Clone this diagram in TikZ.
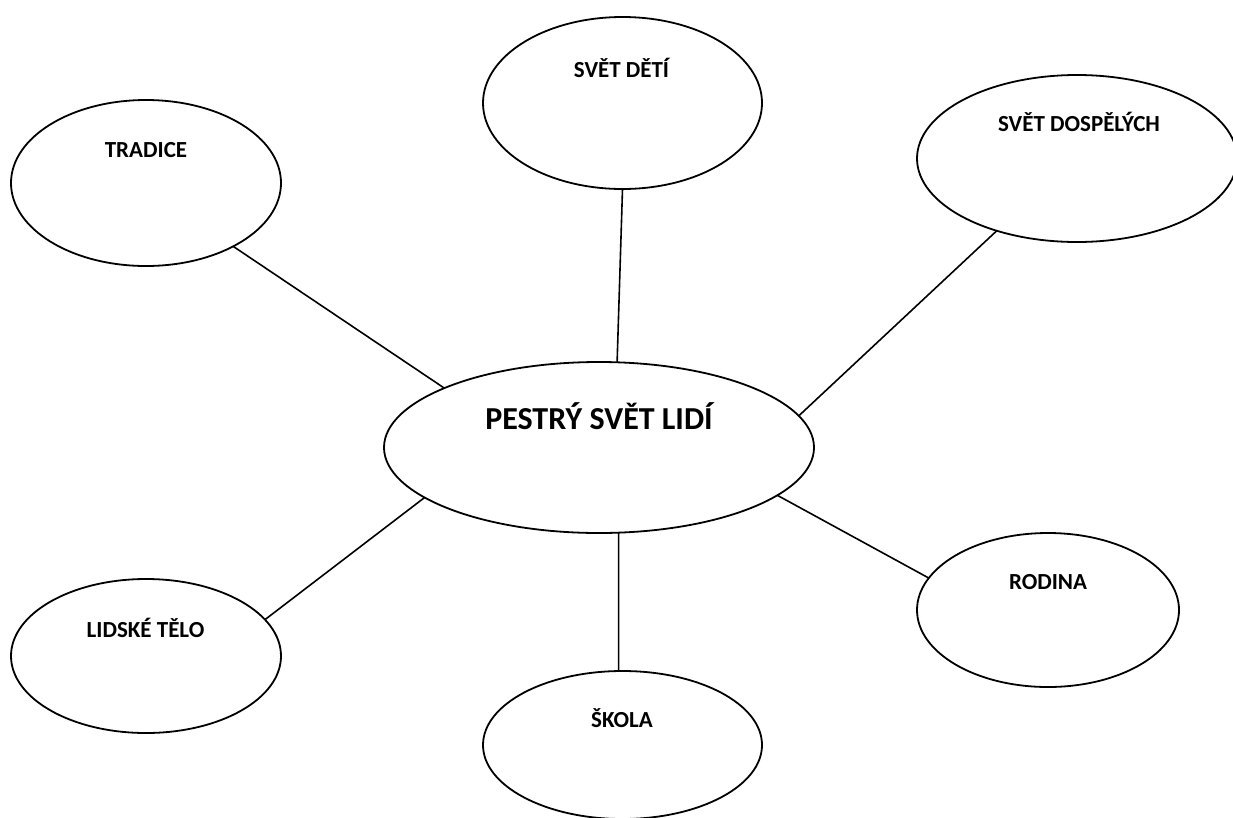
\documentclass[tikz,border=0pt]{standalone}
\usepackage{fontspec}
\setmainfont{Carlito}
\usetikzlibrary{shapes.geometric}
\begin{document}
\begin{tikzpicture}[x=1pt,y=-1pt,
  bubble/.style={draw, ellipse, line width=1.8pt, inner sep=0pt, outer sep=0pt},
  lbl/.style={font=\bfseries\fontsize{23}{27}\selectfont, anchor=base, inner sep=0pt},
  biglbl/.style={font=\bfseries\fontsize{32}{38}\selectfont, anchor=base, inner sep=0pt},
  conn/.style={line width=1.6pt}]
\useasboundingbox (0,0) rectangle (1233,817);
\fill[white] (0,0) rectangle (1233,817);
% ellipses
\node[bubble, minimum width=270pt, minimum height=166pt] (tradice) at (146,183) {};
\node[bubble, minimum width=279pt, minimum height=172pt] (deti) at (622.5,103) {};
\node[bubble, minimum width=320pt, minimum height=167pt] (dosp) at (1077,158.5) {};
\node[bubble, minimum width=430pt, minimum height=171pt] (stred) at (599,447.5) {};
\node[bubble, minimum width=270pt, minimum height=154pt] (telo) at (146,656) {};
\node[bubble, minimum width=279pt, minimum height=148pt] (skola) at (622.5,745) {};
\node[bubble, minimum width=262pt, minimum height=154pt] (rodina) at (1048,610) {};
% labels
\node[lbl] (tradiceT) at (146,157) {TRADICE};
\node[lbl] (detiT) at (621.5,77) {SVĚT DĚTÍ};
\node[lbl] (dospT) at (1079,131) {SVĚT DOSPĚLÝCH};
\node[biglbl] (stredT) at (599,429) {PESTRÝ SVĚT LIDÍ};
\node[lbl] (teloT) at (145.5,637) {LIDSKÉ TĚLO};
\node[lbl] (skolaT) at (622,727) {ŠKOLA};
\node[lbl] (rodinaT) at (1048,589) {RODINA};
% connectors
\draw[conn] (tradice.-36.4) -- (stred.159.5);
\draw[conn] (deti.-90) -- (stred.78.1);
\draw[conn] (dosp.-138.2) -- (stred.9.8);
\draw[conn] (telo.17) -- (stred.-164.7);
\draw[conn] (skola.93.5) -- (stred.-77.5);
\draw[conn] (rodina.165.6) -- (stred.-15.1);
\end{tikzpicture}
\end{document}
